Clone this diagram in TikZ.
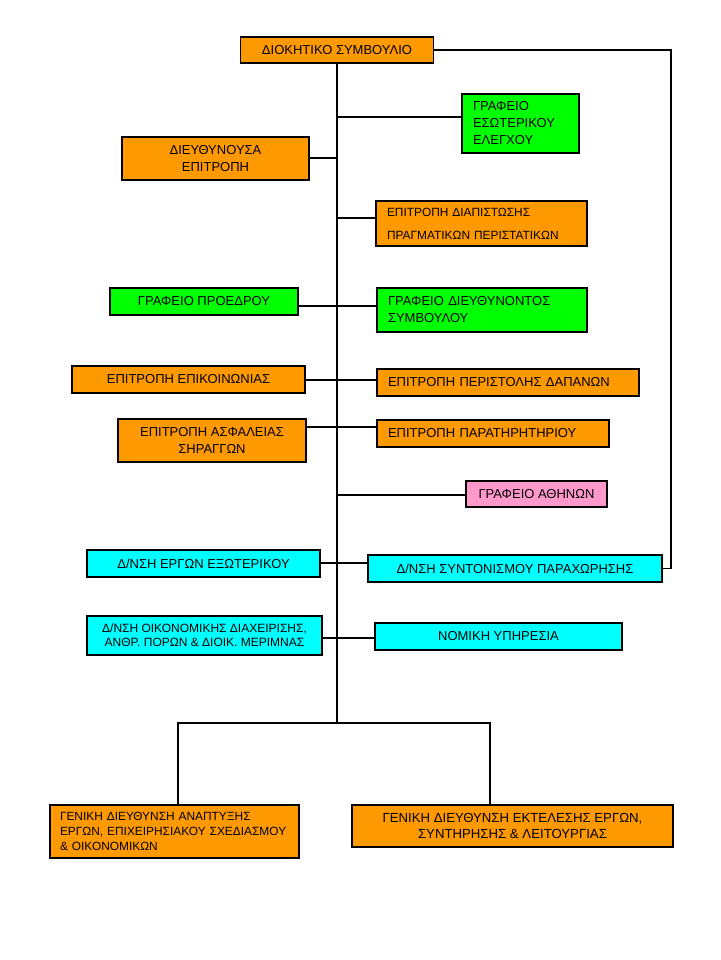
\documentclass[tikz,border=0pt]{standalone}
\usepackage{fontspec}
\setmainfont{Liberation Sans}
\definecolor{boardorange}{RGB}{255,153,0}
\definecolor{officegreen}{RGB}{0,255,0}
\definecolor{unitcyan}{RGB}{0,255,255}
\definecolor{athenspink}{RGB}{255,153,204}
\tikzset{
  unit/.style={draw=black, line width=1.1pt, inner sep=0pt, align=center,
    font=\fontsize{13}{17}\selectfont},
  leftunit/.style={unit, align=left, inner xsep=11pt},
  orangeunit/.style={fill=boardorange},
  greenunit/.style={fill=officegreen},
  cyanunit/.style={fill=unitcyan},
  pinkunit/.style={fill=athenspink},
  link/.style={line width=1.1pt}
}

\begin{document}
\begin{tikzpicture}[x=1pt, y=-1pt]
  \useasboundingbox[fill=white] (0,0) rectangle (720,960);

  % board and trunk
  \node[unit, orangeunit, minimum width=193, minimum height=26] (board) at (337,50) {ΔΙΟΚΗΤΙΚΟ ΣΥΜΒΟΥΛΙΟ};
  \coordinate (split) at (337,723);
  \coordinate (rim)   at (671,50);

  % left column
  \node[unit, orangeunit, minimum width=187, minimum height=43] (execcomm) at (215.5,158.5) {ΔΙΕΥΘΥΝΟΥΣΑ\\ΕΠΙΤΡΟΠΗ};
  \node[unit, greenunit,  minimum width=188, minimum height=27] (chairoff) at (204,301.5)   {ΓΡΑΦΕΙΟ ΠΡΟΕΔΡΟΥ};
  \node[unit, orangeunit, minimum width=233, minimum height=27] (commcomm) at (188.5,379.5) {ΕΠΙΤΡΟΠΗ ΕΠΙΚΟΙΝΩΝΙΑΣ};
  \node[unit, orangeunit, minimum width=188, minimum height=43] (safety)   at (212,440.5)   {ΕΠΙΤΡΟΠΗ ΑΣΦΑΛΕΙΑΣ\\ΣΗΡΑΓΓΩΝ};
  \node[unit, cyanunit,   minimum width=233, minimum height=27] (abroad)   at (203.5,563.5) {Δ/ΝΣΗ ΕΡΓΩΝ ΕΞΩΤΕΡΙΚΟΥ};
  \node[unit, cyanunit,   minimum width=235, minimum height=39,
        font=\fontsize{12}{14}\selectfont] (finance) at (204.5,635.5)
        {Δ/ΝΣΗ ΟΙΚΟΝΟΜΙΚΗΣ ΔΙΑΧΕΙΡΙΣΗΣ,\\ΑΝΘΡ. ΠΟΡΩΝ \& ΔΙΟΙΚ. ΜΕΡΙΜΝΑΣ};

  % right column
  \node[leftunit, greenunit,  text width=95,  minimum height=59] (audit)   at (520.5,123.5) {ΓΡΑΦΕΙΟ\\ΕΣΩΤΕΡΙΚΟΥ\\ΕΛΕΓΧΟΥ};
  \node[leftunit, orangeunit, text width=189, minimum height=45,
        font=\fontsize{11.9}{23}\selectfont] (inquiry) at (481.5,223.5)
        {ΕΠΙΤΡΟΠΗ ΔΙΑΠΙΣΤΩΣΗΣ\\ΠΡΑΓΜΑΤΙΚΩΝ ΠΕΡΙΣΤΑΤΙΚΩΝ};
  \node[leftunit, greenunit,  text width=188, minimum height=44] (ceooff)   at (482,310)   {ΓΡΑΦΕΙΟ ΔΙΕΥΘΥΝΟΝΤΟΣ\\ΣΥΜΒΟΥΛΟΥ};
  \node[leftunit, orangeunit, text width=240, minimum height=27] (costcomm) at (508,382.5) {ΕΠΙΤΡΟΠΗ ΠΕΡΙΣΤΟΛΗΣ ΔΑΠΑΝΩΝ};
  \node[leftunit, orangeunit, text width=210, minimum height=27] (observ)   at (493,433.5) {ΕΠΙΤΡΟΠΗ ΠΑΡΑΤΗΡΗΤΗΡΙΟΥ};
  \node[unit, pinkunit, minimum width=141, minimum height=26] (athens)     at (536.5,494)  {ΓΡΑΦΕΙΟ ΑΘΗΝΩΝ};
  \node[unit, cyanunit, minimum width=294, minimum height=27] (concession) at (515,568.5)  {Δ/ΝΣΗ ΣΥΝΤΟΝΙΣΜΟΥ ΠΑΡΑΧΩΡΗΣΗΣ};
  \node[unit, cyanunit, minimum width=247, minimum height=27] (legal)      at (498.5,636.5) {ΝΟΜΙΚΗ ΥΠΗΡΕΣΙΑ};

  % general directorates
  \node[leftunit, orangeunit, inner xsep=10pt, text width=229, minimum height=53,
        font=\fontsize{11.9}{15}\selectfont] (gdplan) at (174.5,831.5)
        {ΓΕΝΙΚΗ ΔΙΕΥΘΥΝΣΗ ΑΝΑΠΤΥΞΗΣ\\ΕΡΓΩΝ, ΕΠΙΧΕΙΡΗΣΙΑΚΟΥ ΣΧΕΔΙΑΣΜΟΥ\\\& ΟΙΚΟΝΟΜΙΚΩΝ};
  \node[unit, orangeunit, minimum width=321, minimum height=42,
        font=\fontsize{13.2}{16}\selectfont] (gdops) at (512.5,826)
        {ΓΕΝΙΚΗ ΔΙΕΥΘΥΝΣΗ ΕΚΤΕΛΕΣΗΣ ΕΡΓΩΝ,\\ΣΥΝΤΗΡΗΣΗΣ \& ΛΕΙΤΟΥΡΓΙΑΣ};

  % taps on the trunk
  \coordinate (tapaudit)   at (337,117);
  \coordinate (tapexec)    at (337,158);
  \coordinate (tapinquiry) at (337,218);
  \coordinate (tapchair)   at (337,306);
  \coordinate (tapcomm)    at (337,380);
  \coordinate (tapsafety)  at (337,427);
  \coordinate (tapathens)  at (337,495);
  \coordinate (tapabroad)  at (337,563);
  \coordinate (tapfinance) at (337,638);
  \coordinate (leftdrop)   at (178,723);
  \coordinate (rightdrop)  at (490,723);

  % connectors
  \draw[link] (board.south) -- (split);
  \draw[link] (board.east) -- (rim) -- (rim |- concession.east) -- (concession.east);
  \draw[link] (tapaudit) -- (tapaudit -| audit.west);
  \draw[link] (execcomm.east |- tapexec) -- (tapexec);
  \draw[link] (tapinquiry) -- (tapinquiry -| inquiry.west);
  \draw[link] (chairoff.east |- tapchair) -- (ceooff.west |- tapchair);
  \draw[link] (commcomm.east |- tapcomm) -- (costcomm.west |- tapcomm);
  \draw[link] (safety.east |- tapsafety) -- (observ.west |- tapsafety);
  \draw[link] (tapathens) -- (tapathens -| athens.west);
  \draw[link] (abroad.east |- tapabroad) -- (concession.west |- tapabroad);
  \draw[link] (finance.east |- tapfinance) -- (legal.west |- tapfinance);
  \draw[link] (leftdrop |- gdplan.north) -- (leftdrop) -- (rightdrop) -- (rightdrop |- gdops.north);
\end{tikzpicture}
\end{document}
